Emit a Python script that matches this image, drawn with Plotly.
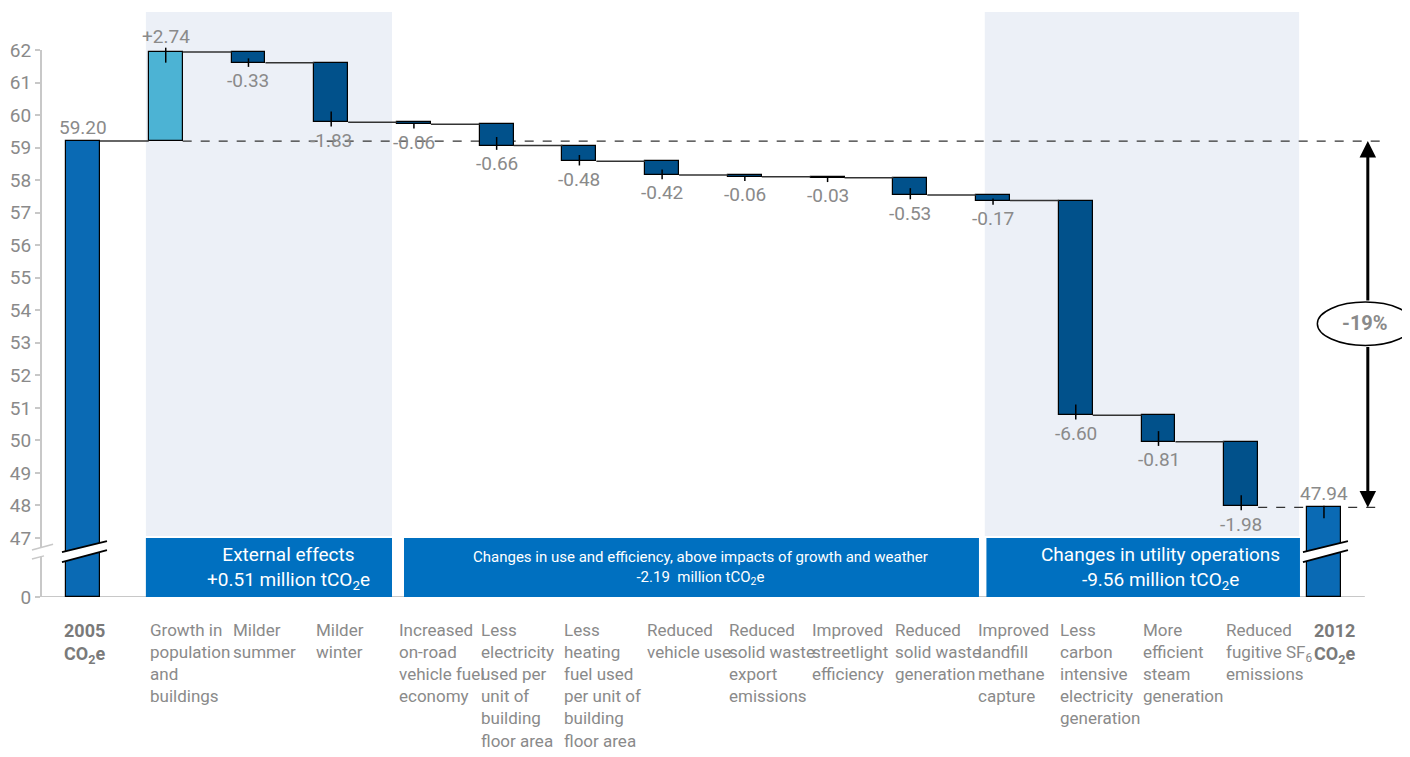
import plotly.graph_objects as go

# ---------------- data ----------------
label_lines = [
    ["2005", "CO<sub>2</sub>e"],
    ["Growth in", "population", "and", "buildings"],
    ["Milder", "summer"],
    ["Milder", "winter"],
    ["Increased", "on-road", "vehicle fuel", "economy"],
    ["Less", "electricity", "used per", "unit of", "building", "floor area"],
    ["Less", "heating", "fuel used", "per unit of", "building", "floor area"],
    ["Reduced", "vehicle use"],
    ["Reduced", "solid waste", "export", "emissions"],
    ["Improved", "streetlight", "efficiency"],
    ["Reduced", "solid waste", "generation"],
    ["Improved", "landfill", "methane", "capture"],
    ["Less", "carbon", "intensive", "electricity", "generation"],
    ["More", "efficient", "steam", "generation"],
    ["Reduced", "fugitive SF<sub>6</sub>", "emissions"],
    ["2012", "CO<sub>2</sub>e"],
]
start_total = 59.20
end_total = 47.94
deltas = [2.74, -0.33, -1.83, -0.06, -0.66, -0.48, -0.42, -0.06, -0.03,
          -0.53, -0.17, -6.60, -0.81, -1.98]
pct_change = "-19%"
group_titles = [
    "External effects<br>+0.51 million tCO<sub>2</sub>e",
    "Changes in use and efficiency, above impacts of growth and weather<br>-2.19&nbsp;&nbsp;million tCO<sub>2</sub>e",
    "Changes in utility operations<br>-9.56 million tCO<sub>2</sub>e",
]
y_ticks = list(range(47, 63))

# ---------------- style ----------------
FONT = "Roboto, Liberation Sans, Arial, sans-serif"
GRAY = "#8A8A8A"
AXIS = "#C8C8C8"
C_TOTAL = "#0A6AB4"
C_UP = "#4CB3D4"
C_DOWN = "#01518B"
BAND = "#0070C0"
SHADE = "#ECF0F7"
BW = 0.41  # bar width in category units

BREAK_LOW = 45.186  # display position of value 0 (axis broken below 47)
Y_TOP = 63.29


def disp(v):
    """Map a value onto the broken axis."""
    return v if v >= 47 else BREAK_LOW + v * (47 - BREAK_LOW) / 47


n = len(label_lines)
xs = list(range(n))

# running levels
levels = [start_total]
for d in deltas:
    levels.append(round(levels[-1] + d, 2))

bases, heights, colors = [], [], []
bases.append(disp(0)); heights.append(start_total - disp(0)); colors.append(C_TOTAL)
for i, d in enumerate(deltas):
    a, b = levels[i], levels[i + 1]
    bases.append(min(a, b)); heights.append(abs(d))
    colors.append(C_UP if d > 0 else C_DOWN)
bases.append(disp(0)); heights.append(end_total - disp(0)); colors.append(C_TOTAL)

fig = go.Figure()

# connectors (solid)
cx, cy = [], []
for i in range(n - 2):
    lvl = levels[i]
    cx += [i + BW / 2, i + 1 - BW / 2, None]
    cy += [lvl, lvl, None]
fig.add_trace(go.Scatter(x=cx, y=cy, mode="lines",
                         line=dict(color="#333333", width=1.5),
                         hoverinfo="skip", showlegend=False))

# bars
fig.add_trace(go.Bar(x=xs, y=heights, base=bases, width=BW,
                     marker=dict(color=colors, line=dict(color="black", width=1.2)),
                     hoverinfo="skip", showlegend=False))

# small ticks at bar ends
tx, ty = [], []
for i, d in enumerate(deltas):
    e = levels[i + 1]
    inside = min(0.33, abs(d) * 0.4)
    out = 0.13
    if d > 0:
        lo, hi = e - inside, e + out
    else:
        lo, hi = e - out, e + inside
    tx += [i + 1, i + 1, None]
    ty += [lo, hi, None]
tx += [n - 1, n - 1, None]
ty += [end_total - 0.33, end_total + 0.05, None]
fig.add_trace(go.Scatter(x=tx, y=ty, mode="lines",
                         line=dict(color="black", width=1.5),
                         hoverinfo="skip", showlegend=False))

shapes = []
# shaded group backgrounds
shade_spans = [(0.76, 3.735), (10.90, 14.70)]
for x0, x1 in shade_spans:
    shapes.append(dict(type="rect", xref="x", yref="y", x0=x0, x1=x1, y0=47.06, y1=63.17,
                       fillcolor=SHADE, line=dict(width=0), layer="below"))
# dashed reference lines
shapes.append(dict(type="line", xref="x", yref="y", x0=1 + BW / 2, x1=15.68,
                   y0=start_total, y1=start_total, line=dict(color="#333333", width=1.3, dash="dash"),
                   layer="below"))
shapes.append(dict(type="line", xref="x", yref="y", x0=n - 2 + BW / 2, x1=15.68,
                   y0=end_total, y1=end_total, line=dict(color="#333333", width=1.3, dash="dash"),
                   layer="below"))
# group bands
band_spans = [(0.76, 3.735), (3.88, 10.83), (10.92, 14.71)]
for x0, x1 in band_spans:
    shapes.append(dict(type="rect", xref="x", yref="y", x0=x0, x1=x1, y0=BREAK_LOW, y1=47.0,
                       fillcolor=BAND, line=dict(width=0), layer="above"))
# axis lines
shapes.append(dict(type="line", xref="paper", yref="y", x0=0, x1=0, y0=BREAK_LOW, y1=62,
                   line=dict(color=AXIS, width=2), layer="above"))
shapes.append(dict(type="line", xref="paper", yref="y", x0=0, x1=0.967, y0=BREAK_LOW, y1=BREAK_LOW,
                   line=dict(color=AXIS, width=2), layer="below"))
# axis break
shapes.append(dict(type="path", xref="paper", yref="y",
                   path="M -0.0066,46.353 L 0.0088,46.537 L 0.0088,46.81 L -0.0066,46.63 Z",
                   fillcolor="white", line=dict(width=0), layer="above"))
shapes.append(dict(type="line", xref="paper", yref="y", x0=-0.0066, x1=0.0088, y0=46.63, y1=46.81,
                   line=dict(color=AXIS, width=1.5), layer="above"))
shapes.append(dict(type="line", xref="paper", yref="y", x0=-0.0066, x1=0.0022, y0=46.353, y1=46.45,
                   line=dict(color=AXIS, width=1.5), layer="above"))
# bar breaks
for c in (0, n - 1):
    xa, xb = c - 0.254, c + 0.29
    shapes.append(dict(type="path", xref="x", yref="y",
                       path=f"M {xa},46.261 L {xb},46.629 L {xb},46.906 L {xa},46.568 Z",
                       fillcolor="white", line=dict(width=0), layer="above"))
    shapes.append(dict(type="line", xref="x", yref="y", x0=xa, x1=xb, y0=46.568, y1=46.906,
                       line=dict(color="black", width=1.8), layer="above"))
    shapes.append(dict(type="line", xref="x", yref="y", x0=xa, x1=xb, y0=46.261, y1=46.629,
                       line=dict(color="black", width=1.8), layer="above"))
# ellipse
shapes.append(dict(type="circle", xref="x", yref="y", x0=14.92, x1=16.08, y0=52.92, y1=54.25,
                   fillcolor="white", line=dict(color="black", width=1.5), layer="above"))

annotations = []
# value labels
annotations.append(dict(x=0, y=start_total, text=f"{start_total:.2f}", showarrow=False,
                        yshift=14, font=dict(size=19, color=GRAY, family=FONT)))
for i, d in enumerate(deltas):
    e = levels[i + 1]
    txt = f"+{d:.2f}" if d > 0 else f"{d:.2f}"
    annotations.append(dict(x=i + 1, y=e, text=txt, showarrow=False,
                            yshift=15 if d > 0 else -18,
                            font=dict(size=19, color=GRAY, family=FONT)))
annotations.append(dict(x=n - 1, y=end_total, text=f"{end_total:.2f}", showarrow=False,
                        yshift=14, font=dict(size=19, color=GRAY, family=FONT)))
# category labels (below the plot area, paper coordinates)
for i, lines in enumerate(label_lines):
    bold = i in (0, n - 1)
    txt = "<br>".join(f"<b>{l}</b>" if bold else l for l in lines)
    off = -0.21
    if i == 0:
        off = -0.25
    elif i == n - 1:
        off = -0.14
    annotations.append(dict(x=i + off, xref="x", y=-0.036, yref="paper",
                            xanchor="left", yanchor="top", align="left",
                            text=txt, showarrow=False,
                            font=dict(size=17 if not bold else 18,
                                      color="#7A7A7A" if bold else GRAY, family=FONT)))
# group band titles
band_text_pos = [(2.48, 19), (7.46, 15), (13.02, 19)]
for (bx, fs), t in zip(band_text_pos, group_titles):
    annotations.append(dict(x=bx, y=46.09, text=t, showarrow=False, align="center",
                            font=dict(size=fs, color="white", family=FONT)))
# double arrow
annotations.append(dict(x=15.53, y=start_total, ax=15.53, ay=54.25, axref="x", ayref="y",
                        xref="x", yref="y", text="", showarrow=True, arrowhead=2,
                        arrowsize=1.1, arrowwidth=3, arrowcolor="black"))
annotations.append(dict(x=15.53, y=end_total, ax=15.53, ay=52.92, axref="x", ayref="y",
                        xref="x", yref="y", text="", showarrow=True, arrowhead=2,
                        arrowsize=1.1, arrowwidth=3, arrowcolor="black"))
annotations.append(dict(x=15.5, y=53.6, text=f"<b>{pct_change}</b>", showarrow=False,
                        font=dict(size=20, color=GRAY, family=FONT)))

fig.update_layout(
    width=1402, height=749,
    margin=dict(l=33, r=0, t=0, b=160),
    paper_bgcolor="white", plot_bgcolor="white",
    showlegend=False,
    bargap=0,
    shapes=shapes, annotations=annotations,
    xaxis=dict(range=[-0.5077, 16.04], showticklabels=False, showgrid=False,
               zeroline=False, showline=False, ticks=""),
    yaxis=dict(range=[BREAK_LOW, Y_TOP], showgrid=False, zeroline=False, showline=False,
               tickvals=[disp(0)] + [disp(v) for v in y_ticks],
               ticktext=["0"] + [str(v) for v in y_ticks],
               ticks="outside", ticklen=5, tickwidth=2, tickcolor=AXIS,
               tickfont=dict(size=19, color=GRAY, family=FONT)),
)

fig.write_html("out.html")
